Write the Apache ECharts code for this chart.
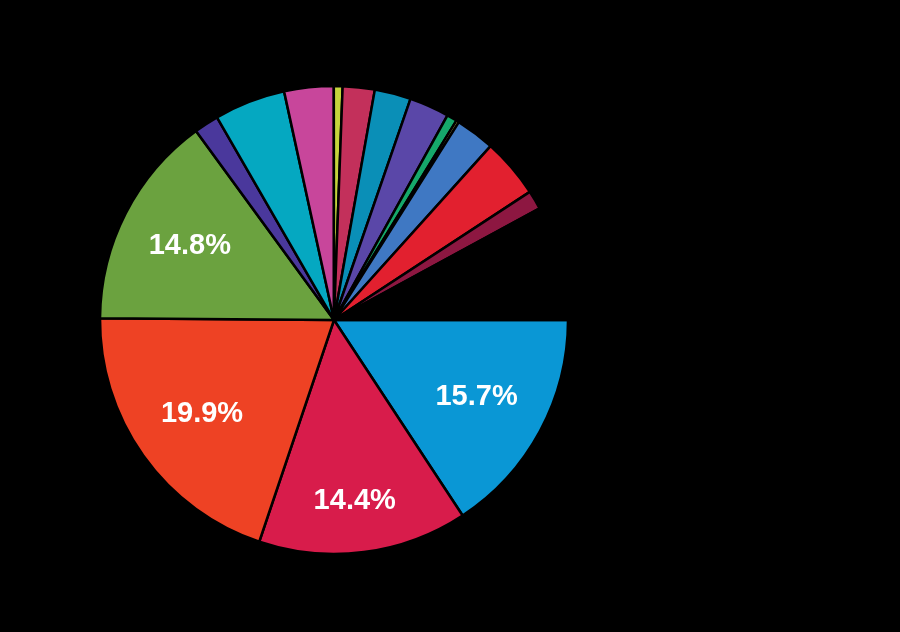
<!DOCTYPE html>
<html>
<head>
<meta charset="utf-8">
<script src="https://cdn.jsdelivr.net/npm/echarts@6/dist/echarts.min.js"></script>
<style>
html,body{margin:0;padding:0;background:#000;}
#chart{width:900px;height:632px;}
</style>
</head>
<body>
<div id="chart"></div>
<script>
// Segment names (labels are not visible in the reference)
const categories = ['S1','S2','S3','S4','S5','S6','S7','S8','S9','S10','S11','S12','S13','S14','S15','S16','S17'];
// Slice shares in percent, clockwise starting at 3 o'clock
const values = [15.7, 14.4, 19.9, 14.8, 1.7, 4.9, 3.4, 0.6, 2.2, 2.5, 2.75, 0.7, 0.2, 2.7, 4.1, 1.3, 7.9];
// Which slices carry a visible percentage label
const labelled = [true, true, true, true, false, false, false, false, false, false, false, false, false, false, false, false, false];
const colors = ['#0A97D5','#D81C4B','#EE4224','#6BA23F','#4A389C','#05A8C1','#C8469B','#C5D43C','#C3305B','#0A8FB7','#5A47A8','#16A86B','#D9C24E','#3F78C3','#E2202F','#8D1741','#000000'];

const center = [334, 320];
const R = 234;

const mainData = categories.map((n, i) => ({
  name: n, value: values[i],
  itemStyle: { color: colors[i] }
}));

const labelData = categories.map((n, i) => ({
  name: n, value: values[i],
  itemStyle: { color: 'rgba(0,0,0,0)', borderWidth: 0 },
  label: i === 1
    ? { show: labelled[i], formatter: '\n{c}%', lineHeight: 40 }
    : { show: labelled[i] }
}));

const chart = echarts.init(document.getElementById('chart'), null, { renderer: 'canvas' });
chart.setOption({
  backgroundColor: '#000',
  animation: false,
  series: [
    {
      type: 'pie',
      center: center,
      radius: [0, R],
      startAngle: 0,
      clockwise: true,
      avoidLabelOverlap: false,
      silent: true,
      label: { show: false },
      labelLine: { show: false },
      itemStyle: { borderColor: '#000', borderWidth: 2.5 },
      data: mainData
    },
    {
      type: 'pie',
      center: center,
      radius: [0, 318],
      startAngle: 0,
      clockwise: true,
      avoidLabelOverlap: false,
      silent: true,
      z: 5,
      label: {
        position: 'inside',
        formatter: '{c}%',
        color: '#fff',
        fontFamily: '"Liberation Sans", Arial, sans-serif',
        fontWeight: 'bold',
        fontSize: 29
      },
      labelLine: { show: false },
      data: labelData
    }
  ]
});
</script>
</body>
</html>
